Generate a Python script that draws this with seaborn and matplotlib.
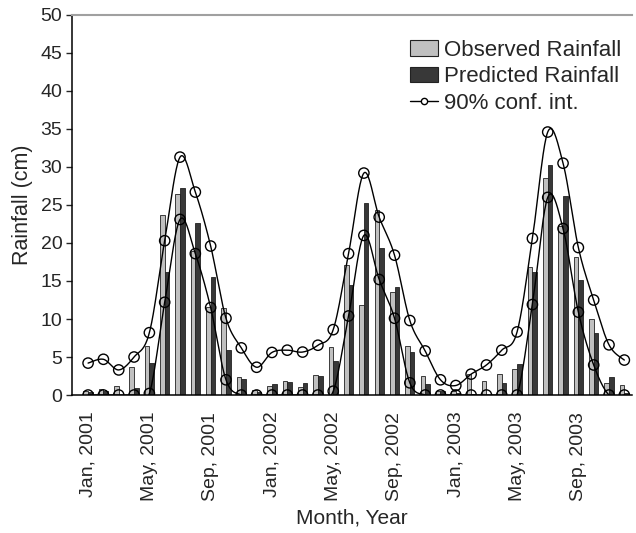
import numpy as np
import pandas as pd
import matplotlib
matplotlib.use("Agg")
import matplotlib.pyplot as plt
from matplotlib.patches import Patch
from matplotlib.lines import Line2D
import seaborn as sns

# Monthly rainfall, Jan 2001 - Dec 2003 (cm)
months = [f"{m}, {y}" for y in (2001, 2002, 2003)
          for m in ("Jan", "Feb", "Mar", "Apr", "May", "Jun",
                    "Jul", "Aug", "Sep", "Oct", "Nov", "Dec")]

observed = [0.5, 0.75, 1.2, 3.7, 6.5, 23.7, 26.4, 18.9, 11.6, 11.4, 2.4, 0.65,
            1.15, 1.85, 1.1, 2.6, 6.3, 17.1, 11.9, 24.3, 13.5, 6.5, 2.45, 0.57,
            0.5, 2.7, 1.8, 2.7, 3.4, 16.8, 28.6, 22.3, 18.1, 10.0, 1.6, 1.35]
predicted = [0.4, 0.55, 0.05, 0.95, 4.2, 16.2, 27.2, 22.6, 15.5, 5.9, 2.1, 0.45,
             1.45, 1.7, 1.6, 2.5, 4.5, 14.5, 25.2, 19.3, 14.2, 5.7, 1.5, 0.5,
             0.3, 0.1, 0.05, 1.55, 4.1, 16.2, 30.3, 26.2, 15.1, 8.15, 2.4, 0.3]
ci_upper = [4.2, 4.7, 3.3, 5.0, 8.2, 20.3, 31.3, 26.7, 19.6, 10.1, 6.2, 3.65,
            5.6, 5.9, 5.65, 6.55, 8.6, 18.6, 29.2, 23.4, 18.4, 9.8, 5.8, 2.0,
            1.25, 2.75, 3.95, 5.9, 8.3, 20.6, 34.6, 30.5, 19.4, 12.5, 6.6, 4.6]
ci_lower = [0, 0, 0, 0, 0.2, 12.2, 23.1, 18.6, 11.5, 2.0, 0, 0,
            0, 0, 0, 0, 0.5, 10.4, 21.0, 15.2, 10.1, 1.6, 0, 0,
            0, 0, 0, 0, 0, 11.9, 26.0, 21.9, 10.9, 3.95, 0, 0]

series_names = ["Observed Rainfall", "Predicted Rainfall"]
obs_color = "#c0c0c0"
pred_color = "#383838"

df = pd.DataFrame({
    "Month": months * 2,
    "Rainfall": observed + predicted,
    "Series": [series_names[0]] * len(months) + [series_names[1]] * len(months),
})


def smooth_curve(y, steps=20):
    """Catmull-Rom style Bezier smoothing through every point."""
    y = np.asarray(y, dtype=float)
    x = np.arange(len(y), dtype=float)
    pts = np.column_stack([x, y])
    out = []
    t = np.linspace(0, 1, steps, endpoint=False)[:, None]
    n = len(pts)
    for i in range(n - 1):
        p0 = pts[max(i - 1, 0)]
        p1 = pts[i]
        p2 = pts[i + 1]
        p3 = pts[min(i + 2, n - 1)]
        c1 = p1 + (p2 - p0) / 6.0
        c2 = p2 - (p3 - p1) / 6.0
        seg = ((1 - t) ** 3) * p1 + 3 * ((1 - t) ** 2) * t * c1 \
            + 3 * (1 - t) * t ** 2 * c2 + t ** 3 * p2
        out.append(seg)
    out.append(pts[-1][None, :])
    out = np.vstack(out)
    return out[:, 0], out[:, 1]


sns.set_style("ticks")
plt.rcParams["font.family"] = ["Liberation Sans", "DejaVu Sans"]

fig = plt.figure(figsize=(6.36, 5.33), dpi=100)
ax = fig.add_axes([0.1132, 0.2589, 0.8805, 0.713])

sns.barplot(data=df, x="Month", y="Rainfall", hue="Series", order=months,
            hue_order=series_names, palette=[obs_color, pred_color],
            width=0.6, edgecolor="#222222", linewidth=0.6, errorbar=None,
            legend=False, ax=ax)

for band in (ci_upper, ci_lower):
    sx, sy = smooth_curve(band)
    ax.plot(sx, sy, color="black", linewidth=1.0, zorder=3)
    sns.scatterplot(x=np.arange(len(band)), y=band, ax=ax, marker="o",
                    s=55, facecolor="none", edgecolor="black", linewidth=1.0,
                    zorder=4, legend=False)

ax.set_xlim(-1.05, 35.5)
ax.set_ylim(0, 50)
ax.set_yticks(np.arange(0, 51, 5))
tick_pos = list(range(0, 36, 4))
ax.set_xticks(tick_pos)
ax.set_xticklabels([months[i] for i in tick_pos], rotation=90)
ax.tick_params(axis="x", length=0, pad=12, labelsize=14)
ax.tick_params(axis="y", length=4, width=1, direction="out", labelsize=14,
               pad=3)

for side in ("left", "bottom"):
    ax.spines[side].set_color("black")
    ax.spines[side].set_linewidth(1.1)
ax.spines["right"].set_visible(False)
ax.spines["top"].set_color("#a0a0a0")
ax.spines["top"].set_linewidth(1.5)

ax.set_xlabel("Month, Year", fontsize=15, labelpad=5)
ax.set_ylabel("Rainfall (cm)", fontsize=15.5, labelpad=5)

handles = [
    Patch(facecolor=obs_color, edgecolor="#222222", linewidth=0.8),
    Patch(facecolor=pred_color, edgecolor="#222222", linewidth=0.8),
    Line2D([0], [0], color="black", linewidth=1.0, marker="o", markersize=4.5,
           markerfacecolor="white", markeredgecolor="black"),
]
ax.legend(handles, ["Observed Rainfall", "Predicted Rainfall", "90% conf. int."],
          loc="upper right", bbox_to_anchor=(1.005, 0.97), frameon=False,
          fontsize=16, handlelength=1.25, handleheight=0.7, handletextpad=0.3,
          labelspacing=0.25, borderaxespad=0.2)

fig.savefig("out.png", dpi=100)
